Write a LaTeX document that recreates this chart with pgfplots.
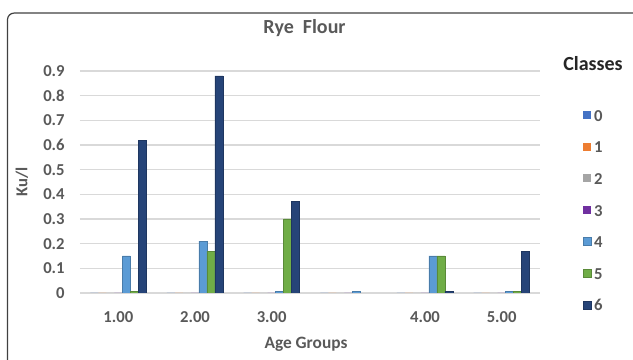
\documentclass[border=0pt]{standalone}
\usepackage{pgfplots}
\pgfplotsset{compat=1.18}
\usepackage{fontspec}
\setmainfont{Carlito}
\definecolor{c0}{HTML}{4472C4}
\definecolor{c1}{HTML}{ED7D31}
\definecolor{c2}{HTML}{A5A5A5}
\definecolor{c3}{HTML}{7030A0}
\definecolor{c4}{HTML}{5B9BD5}
\definecolor{c5}{HTML}{70AD47}
\definecolor{c6}{HTML}{264478}
\definecolor{txt}{HTML}{595959}
\definecolor{grid}{HTML}{D9D9D9}
\begin{document}
\begin{tikzpicture}
\path[use as bounding box] (0,0) rectangle (474.75pt,270pt);
\begin{scope}
\clip (0,0) rectangle (474.75pt,270pt);
\draw[color=black!75, line width=0.9pt, rounded corners=5pt] (5.6pt,-20pt) rectangle (500pt,260.2pt);
\end{scope}
\begin{axis}[
  at={(60pt,50.25pt)}, anchor=south west,
  width=345pt, height=166.5pt, scale only axis,
  xmin=-0.5, xmax=5.5, ymin=0, ymax=0.9,
  ybar=0pt, bar width=6pt,
  axis line style={draw=none},
  tick style={draw=none},
  ymajorgrids, grid style={color=grid, line width=1pt},
  xtick={0,1,2,3,4,5},
  xticklabels={1.00,2.00,3.00,,4.00,5.00},
  ytick={0,0.1,0.2,0.3,0.4,0.5,0.6,0.7,0.8,0.9},
  yticklabels={0,0.1,0.2,0.3,0.4,0.5,0.6,0.7,0.8,0.9},
  /pgf/number format/assume math mode=true,
  ticklabel style={font=\fontsize{12.5}{14}\selectfont\bfseries, text=txt},
  yticklabel style={xshift=-8pt},
  xticklabel style={yshift=-6pt},
  legend cell align=left,
  legend style={at={(axis description cs:1.093,0.835)}, anchor=north west,
    draw=none, fill=none, inner sep=0pt, row sep=12.7pt,
    font=\fontsize{12.5}{14}\selectfont\bfseries, text=txt,
    nodes={inner sep=1pt, text height=9pt, text depth=0pt},
    /tikz/every odd column/.style={column sep=1pt}},
  legend image code/.code={\fill[#1] (0pt,-3pt) rectangle (6pt,3pt);},
]
\addplot[fill=c0, draw=none] coordinates {(0,0) (1,0) (2,0) (3,0) (4,0) (5,0)};
\addplot[fill=c1, draw=none] coordinates {(0,0) (1,0) (2,0) (3,0) (4,0) (5,0)};
\addplot[fill=c2, draw=none] coordinates {(0,0) (1,0) (2,0) (3,0) (4,0) (5,0)};
\addplot[fill=c3, draw=none] coordinates {(0,0) (1,0) (2,0) (3,0) (4,0) (5,0)};
\addplot[fill=c4, draw=c4!80!black, line width=0.4pt] coordinates {(0,0.15) (1,0.21) (2,0.006) (3,0.006) (4,0.15) (5,0.006)};
\addplot[fill=c5, draw=c5!80!black, line width=0.4pt] coordinates {(0,0.006) (1,0.17) (2,0.30) (4,0.15) (5,0.006)};
\addplot[fill=c6, draw=c6!80!black, line width=0.4pt] coordinates {(0,0.62) (1,0.88) (2,0.37) (4,0.006) (5,0.17)};
\legend{0,1,2,3,4,5,6}
\end{axis}
\node[font=\fontsize{15}{18}\selectfont\bfseries, text=txt] at (228.4pt,249pt) {Rye\ \ Flour};
\node[font=\fontsize{15}{18}\selectfont\bfseries, text=black!85] at (444.75pt,222pt) {Classes};
\node[font=\fontsize{13}{15}\selectfont\bfseries, text=txt] at (229.5pt,11.5pt) {Age Groups};
\node[font=\fontsize{12.5}{15}\selectfont\bfseries, text=txt, rotate=90] at (16.5pt,133.5pt) {Ku/l};
\end{tikzpicture}
\end{document}
